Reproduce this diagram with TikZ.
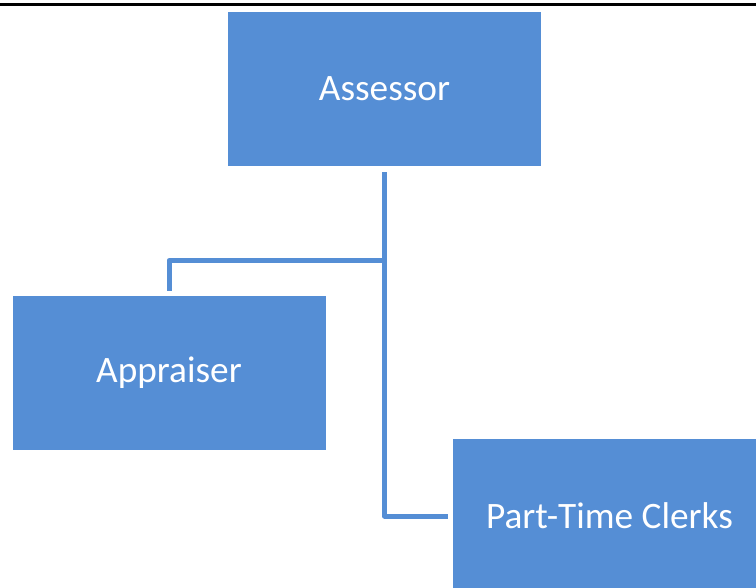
\documentclass[tikz,border=0pt]{standalone}
\usepackage{fontspec}
\setmainfont{Carlito}
\usepackage{tikz}
\definecolor{boxblue}{HTML}{558ED5}
\tikzset{
	% One node style for the boxes and one for the lines between them
	role node/.style={rectangle,fill=boxblue,draw=none,inner sep=0,minimum width=313,minimum height=154,text=white,font=\fontsize{37.3}{42}\selectfont},
	link/.style={draw=boxblue,line width=5,line join=round}
}
\begin{document}
\begin{tikzpicture}[x=1pt,y=-1pt]
			\useasboundingbox (0,0) rectangle (756,588);
			% rule across the top of the page
			\coordinate (rule-l) at (0,5);
			\coordinate (rule-r) at (756,5);
			\draw[line width=3] (rule-l) -- (rule-r);
			
			\node(assessor)[role node] at (384.5,89){Assessor};
			\node(appraiser)[role node] at (169,373){Appraiser};
			\node(clerks)[role node] at (609.5,516){Part-Time Clerks};
			
			% the fork where the branch to the appraiser leaves the trunk
			\coordinate (fork) at (assessor.south |- 0,260.5);
			\draw[link,shorten <=6] (assessor.south) -- (assessor.south |- clerks.west) -- ([xshift=-5]clerks.west);
			\draw[link,shorten >=5] (fork) -| (appraiser.north);
		\end{tikzpicture}
\end{document}
